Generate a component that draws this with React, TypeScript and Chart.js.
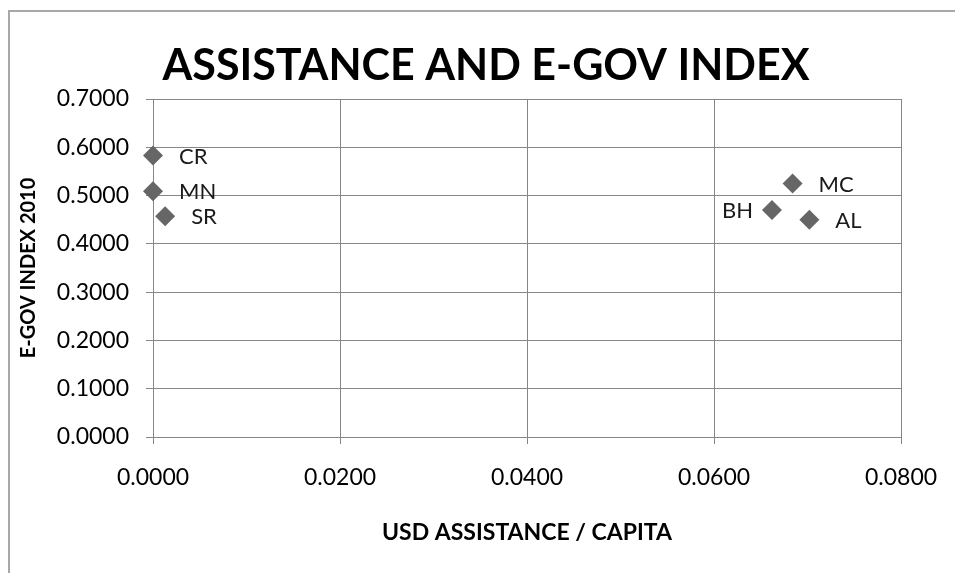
import React, { useEffect, useRef } from "react";
import { Chart, registerables } from "chart.js";

Chart.register(...registerables);

const chartTitle = "ASSISTANCE AND E-GOV INDEX";
const xTitle = "USD ASSISTANCE / CAPITA";
const yTitle = "E-GOV INDEX 2010";
const countries = ["CR", "MN", "SR", "MC", "BH", "AL"];
const assistance = [0.0, 0.0, 0.0013, 0.0684, 0.0662, 0.0702];
const egovIndex = [0.583, 0.509, 0.457, 0.525, 0.47, 0.45];
const labelSide = ["right", "right", "right", "right", "left", "right"];

const FONT = "Lato, 'Open Sans', sans-serif";

const framePlugin = {
  id: "frame",
  beforeDraw(chart: any) {
    const ctx = chart.ctx;
    ctx.save();
    ctx.fillStyle = "#ffffff";
    ctx.fillRect(0, 0, chart.width, chart.height);
    ctx.strokeStyle = "#a8a8a8";
    ctx.lineWidth = 2;
    ctx.beginPath();
    ctx.moveTo(9, chart.height);
    ctx.lineTo(9, 11);
    ctx.lineTo(chart.width, 11);
    ctx.stroke();
    ctx.restore();
  },
  afterDraw(chart: any) {
    const ctx = chart.ctx;
    ctx.save();
    ctx.font = `bold 43px ${FONT}`;
    ctx.fillStyle = "#000000";
    ctx.textAlign = "center";
    ctx.textBaseline = "alphabetic";
    ctx.fillText(chartTitle, 486, 80);
    ctx.restore();
  },
};

const pointLabelPlugin = {
  id: "pointLabels",
  afterDatasetsDraw(chart: any) {
    const ctx = chart.ctx;
    const meta = chart.getDatasetMeta(0);
    ctx.save();
    ctx.font = `22px ${FONT}`;
    ctx.fillStyle = "#1a1a1a";
    ctx.textBaseline = "middle";
    meta.data.forEach((el: any, i: number) => {
      const side = labelSide[i];
      if (side === "left") {
        ctx.textAlign = "right";
        ctx.fillText(countries[i], el.x - 19, el.y + 1);
      } else {
        ctx.textAlign = "left";
        ctx.fillText(countries[i], el.x + 26, el.y + 1);
      }
    });
    ctx.restore();
  },
};

export default function App() {
  const ref = useRef<HTMLCanvasElement>(null);
  useEffect(() => {
    if (!ref.current) return;
    const chart = new Chart(ref.current, {
      type: "scatter",
      data: {
        datasets: [
          {
            label: "E-GOV",
            data: assistance.map((x, i) => ({ x, y: egovIndex[i] })),
            pointStyle: "rectRot",
            pointRadius: 10,
            pointHoverRadius: 10,
            backgroundColor: "#666666",
            borderColor: "#666666",
            borderWidth: 0,
            clip: false,
          },
        ],
      },
      options: {
        animation: false,
        responsive: false,
        layout: { padding: { left: 11, right: 54, top: 99, bottom: 0 } },
        plugins: {
          legend: { display: false },
          tooltip: { enabled: false },
          title: { display: false },
        },
        scales: {
          x: {
            type: "linear",
            min: 0,
            max: 0.08,
            afterFit(scale: any) {
              scale.height = 136;
              scale.paddingLeft = 0;
              scale.paddingRight = 0;
            },
            ticks: {
              stepSize: 0.02,
              color: "#000000",
              font: { family: FONT, size: 23 },
              padding: 20,
              maxRotation: 0,
              callback: (v: any) => Number(v).toFixed(4),
            },
            grid: { color: "#868686", tickLength: 7, lineWidth: 1 },
            border: { color: "#868686" },
            title: {
              display: true,
              text: xTitle,
              color: "#000000",
              font: { family: FONT, size: 23, weight: "bold" },
              padding: { top: 0, bottom: 27 },
            },
          },
          y: {
            type: "linear",
            min: 0,
            max: 0.7,
            afterFit(scale: any) {
              scale.width = 142;
            },
            ticks: {
              stepSize: 0.1,
              color: "#000000",
              font: { family: FONT, size: 23 },
              padding: 17,
              callback: (v: any) => Number(v).toFixed(4),
            },
            grid: { color: "#868686", tickLength: 7, lineWidth: 1 },
            border: { color: "#868686" },
            title: {
              display: true,
              text: yTitle,
              color: "#000000",
              font: { family: FONT, size: 20, weight: "bold" },
              padding: { top: 6, bottom: 0 },
            },
          },
        },
      },
      plugins: [framePlugin, pointLabelPlugin],
    });
    return () => chart.destroy();
  }, []);
  return (
    <div style={{ position: "fixed", left: 0, top: 0, width: 955, height: 573 }}>
      <canvas ref={ref} width={955} height={573} style={{ width: 955, height: 573 }} />
    </div>
  );
}
